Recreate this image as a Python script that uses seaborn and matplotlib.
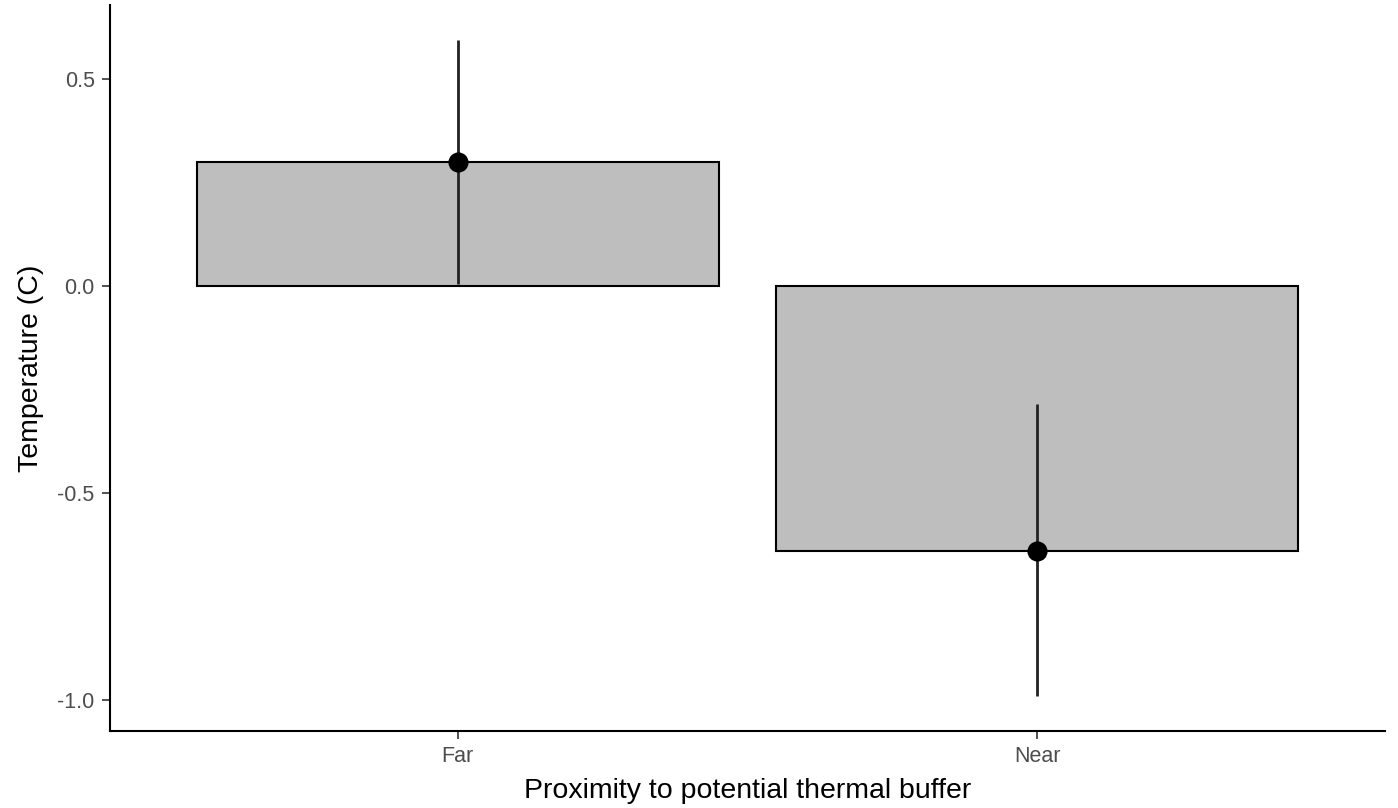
import pandas as pd
import matplotlib.pyplot as plt
import seaborn as sns

# --- data ---
proximity = ["Far", "Near"]
temp_mean = [0.30, -0.64]
temp_low = [0.005, -0.99]
temp_high = [0.595, -0.285]

df = pd.DataFrame({"proximity": proximity, "temp": temp_mean,
                   "low": temp_low, "high": temp_high})

sns.set_style("ticks")
plt.rcParams["font.family"] = ["Liberation Sans", "DejaVu Sans"]

fig = plt.figure(figsize=(13.98, 8.08), dpi=100)
ax = fig.add_axes([0.0787, 0.0953, 0.912, 0.8985])

sns.barplot(data=df, x="proximity", y="temp", color="#bebebe", width=0.9,
            edgecolor="black", linewidth=1.5, errorbar=None, saturation=1, ax=ax)
ax.vlines(x=range(len(df)), ymin=df["low"], ymax=df["high"], color="#222222", linewidth=2, zorder=3)
sns.scatterplot(data=df, x="proximity", y="temp", color="black", s=180,
                edgecolor="black", zorder=4, ax=ax, legend=False)

ax.set_xlim(-0.6, 1.6)
ax.set_ylim(-1.075, 0.68)
ax.set_yticks([0.5, 0.0, -0.5, -1.0])
ax.set_yticklabels(["0.5", "0.0", "-0.5", "-1.0"])

ax.set_xlabel("Proximity to potential thermal buffer", fontsize=20.5, color="black", labelpad=8)
ax.set_ylabel("Temperature (C)", fontsize=20.5, color="black", labelpad=10)
ax.tick_params(axis="both", labelsize=15.5, labelcolor="#4d4d4d", color="#333333", length=6, width=1.2, pad=5)
for side in ["top", "right"]:
    ax.spines[side].set_visible(False)
for side in ["left", "bottom"]:
    ax.spines[side].set_linewidth(1.5)
    ax.spines[side].set_color("black")

plt.savefig("out.png", dpi=100)
